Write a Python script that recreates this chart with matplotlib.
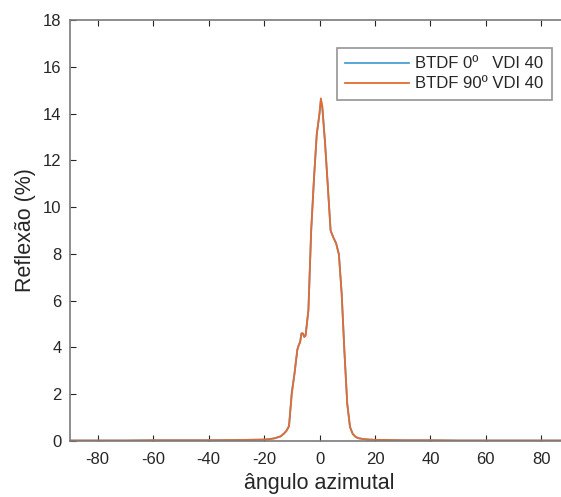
import matplotlib.pyplot as plt
import numpy as np

# angle (deg) and reflection (%)
angles = [-90, -80, -70, -60, -50, -40, -30, -25, -20, -18, -16, -14, -13, -12, -11,
          -10, -9, -8, -7.5, -7, -6.5, -6, -5.5, -5, -4, -3, -2, -1, 0, 0.5, 1,
          2, 3, 4, 5, 6, 7, 8, 9, 10, 11, 12, 13, 14, 16, 18, 20, 25, 30, 40,
          50, 60, 70, 80, 90]
btdf_0 = [0.02, 0.02, 0.02, 0.03, 0.03, 0.03, 0.04, 0.05, 0.06, 0.08, 0.12, 0.2, 0.3, 0.42, 0.65,
          2.1, 2.9, 3.9, 4.1, 4.25, 4.6, 4.6, 4.45, 4.55, 5.6, 9.0, 11.2, 13.1, 14.0, 14.55, 14.3,
          12.8, 10.9, 9.0, 8.7, 8.45, 8.0, 6.3, 3.8, 1.6, 0.6, 0.3, 0.18, 0.12, 0.08, 0.06, 0.05, 0.04, 0.03, 0.03,
          0.02, 0.02, 0.02, 0.02, 0.02]
btdf_90 = [0.02, 0.02, 0.02, 0.03, 0.03, 0.03, 0.04, 0.05, 0.06, 0.08, 0.12, 0.2, 0.3, 0.42, 0.62,
           2.0, 2.9, 3.9, 4.1, 4.2, 4.6, 4.6, 4.45, 4.5, 5.6, 9.0, 11.2, 13.1, 14.0, 14.65, 14.3,
           12.7, 10.9, 9.0, 8.7, 8.45, 7.95, 6.3, 3.8, 1.6, 0.6, 0.3, 0.18, 0.12, 0.08, 0.06, 0.05, 0.04, 0.03, 0.03,
           0.02, 0.02, 0.02, 0.02, 0.02]
series_names = ['BTDF 0º   VDI 40', 'BTDF 90º VDI 40']
x_ticks = [-80, -60, -40, -20, 0, 20, 40, 60, 80]
y_ticks = [0, 2, 4, 6, 8, 10, 12, 14, 16, 18]

plt.rcParams['font.family'] = ['Liberation Sans', 'DejaVu Sans']
plt.rcParams['axes.unicode_minus'] = False

W, H = 561, 497
fig = plt.figure(figsize=(W / 100, H / 100), dpi=100)
# axes run past the right edge of the picture, as in the reference
ax = fig.add_axes([70 / W, 56 / H, 499 / W, 421 / H])

ax.plot(angles, btdf_0, color='#4a9fd8', lw=1.3, label=series_names[0])
ax.plot(angles, btdf_90, color='#e36b30', lw=1.3, label=series_names[1])

ax.set_xlim(-90, 90)
ax.set_ylim(0, 18)
ax.set_xticks(x_ticks)
ax.set_yticks(y_ticks)
ax.tick_params(direction='in', length=4, width=0.8, colors='#262626',
               labelsize=12, top=True, right=True, pad=6)
ax.tick_params(axis='x', pad=8)
for s in ax.spines.values():
    s.set_color('#7a7a7a')
    s.set_linewidth(1.2)

ax.set_xlabel('ângulo azimutal', fontsize=15.5, color='#262626', labelpad=4)
ax.set_ylabel('Reflexão (%)', fontsize=15.5, color='#262626', labelpad=5)

leg = ax.legend(loc='upper right', bbox_to_anchor=(552 / W, 1 - 48 / H),
                bbox_transform=fig.transFigure, borderaxespad=0, fancybox=False,
                fontsize=12, handlelength=3.8, handletextpad=0.4, labelspacing=0.3,
                borderpad=0.5)
leg.get_frame().set_edgecolor('#7a7a7a')
leg.get_frame().set_linewidth(1.2)
for t in leg.get_texts():
    t.set_color('#262626')

fig.savefig('out.png', dpi=100)
